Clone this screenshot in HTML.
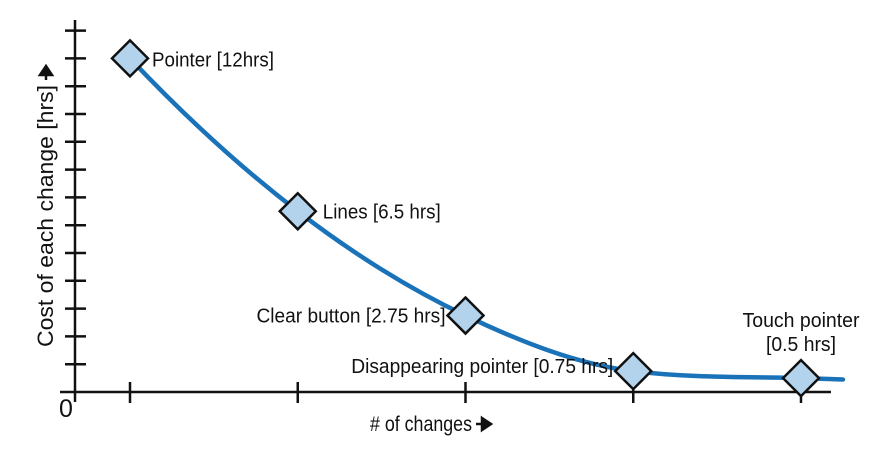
<!DOCTYPE html>
<html><head><meta charset="utf-8"><style>
html,body{margin:0;padding:0;background:#fff;width:886px;height:453px;overflow:hidden}
text{font-family:"Liberation Sans",sans-serif;fill:#111}
</style></head><body>
<svg id="chart" width="886" height="453" viewBox="0 0 886 453" xmlns="http://www.w3.org/2000/svg">
<g id="axes"></g>
<path id="curve" fill="none" stroke="#1a72b8" stroke-width="4.5" stroke-linecap="round"></path>
<g id="marks"></g>
<text x="66" y="417" font-size="25" text-anchor="middle">0</text>
<text x="370" y="431" font-size="21" textLength="102" lengthAdjust="spacingAndGlyphs"># of changes</text>
<path d="M476 424 H486 M482 418 L491 424 L482 430 Z" stroke="#111" stroke-width="2.5" fill="#111"/>
<text transform="translate(53,347) rotate(-90)" font-size="22" textLength="262" lengthAdjust="spacingAndGlyphs">Cost of each change [hrs]</text>
<path d="M46 80 V70 M40 75 L46 66 L52 75 Z" stroke="#111" stroke-width="2.5" fill="#111"/>
</svg>
<script>
const categories = [1, 2, 3, 4, 5];
const values = [12, 6.5, 2.75, 0.75, 0.5];
const labels = ["Pointer [12hrs]", "Lines [6.5 hrs]", "Clear button [2.75 hrs]", "Disappearing pointer [0.75 hrs]", "Touch pointer|[0.5 hrs]"];
const yTicks = [1,2,3,4,5,6,7,8,9,10,11,12,13];
const curveTail = [5.25, 0.45];

const NS = "http://www.w3.org/2000/svg";
const X = v => 130 + (v - 1) * 167.75;
const Y = v => 392 - v * 27.8;
function mk(tag, attrs, parent){const e=document.createElementNS(NS,tag);for(const k in attrs)e.setAttribute(k,attrs[k]);parent.appendChild(e);return e;}
const axes = document.getElementById('axes');
const xa = mk('line',{x1:60,y1:392,x2:831,y2:392,stroke:'#111','stroke-width':2.5},axes);


const ya = mk('line',{x1:75,y1:20,x2:75,y2:402,stroke:'#111','stroke-width':2.5},axes);


yTicks.forEach(t=>{
  const l = mk('line',{x1:65,x2:86,y1:Y(t),y2:Y(t),stroke:'#111','stroke-width':2.5},axes);
  
  
});
categories.forEach(c=>{
  const l = mk('line',{x1:X(c),x2:X(c),y1:382,y2:403,stroke:'#111','stroke-width':2.5},axes);
  
  
});
// monotone convex-ish Hermite curve in data space
const xs = categories.concat([curveTail[0]]);
const ys = values.concat([curveTail[1]]);
const n = xs.length;
const s = [];
for(let i=0;i<n-1;i++) s.push((ys[i+1]-ys[i])/(xs[i+1]-xs[i]));
const m = [];
for(let i=1;i<n-1;i++) m[i]=(s[i-1]+s[i])/2;
m[0] = 2*s[0]-m[1];
m[n-1] = s[n-2];
for(let i=0;i<n-1;i++){
  const a=m[i]/s[i], b=m[i+1]/s[i];
  const r=a*a+b*b;
  if(r>9){const t=3/Math.sqrt(r);m[i]=t*a*s[i];m[i+1]=t*b*s[i];}
}
let d = `M${X(xs[0])},${Y(ys[0])}`;
for(let i=0;i<n-1;i++){
  const h=(xs[i+1]-xs[i])/3;
  d+=` C${X(xs[i]+h)},${Y(ys[i]+m[i]*h)} ${X(xs[i+1]-h)},${Y(ys[i+1]-m[i+1]*h)} ${X(xs[i+1])},${Y(ys[i+1])}`;
}
document.getElementById('curve').setAttribute('d',d);
const marks = document.getElementById('marks');
const lab = [
  {dx:22,dy:8,a:'start',w:122},
  {dx:25,dy:7,a:'start',w:118},
  {dx:-20,dy:7,a:'end',w:189},
  {dx:-20,dy:2,a:'end',w:262},
  {dx:0,dy:-51,a:'middle',w:117}
];
categories.forEach((c,i)=>{
  const x=X(c),y=Y(values[i]),sz=18;
  const p = mk('polygon',{points:`${x},${y-sz} ${x+sz},${y} ${x},${y+sz} ${x-sz},${y}`,fill:'#b3d3ec',stroke:'#111','stroke-width':2.5},marks);
  
  
  const L = lab[i];
  const parts = labels[i].split('|');
  parts.forEach((txt,j)=>{
    const w = j===0 ? L.w : 70;
    const t = mk('text',{x:x+L.dx,y:y+L.dy+j*24,'font-size':20,'text-anchor':L.a,textLength:w,lengthAdjust:'spacingAndGlyphs'},marks);
    t.textContent = txt;
    
    
  });
});
</script>
</body></html>
